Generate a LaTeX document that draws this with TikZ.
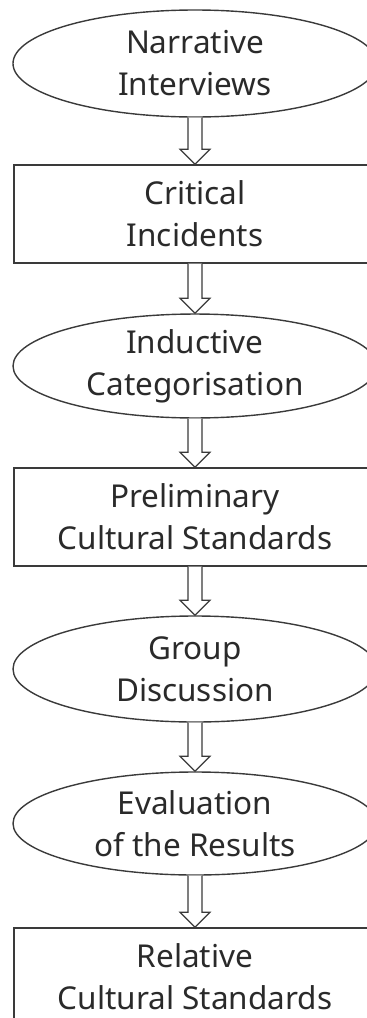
\documentclass[tikz,border=0pt]{standalone}
\usepackage{fontspec}
\setmainfont{Noto Sans}
\usetikzlibrary{shapes.geometric,calc}
\definecolor{ln}{HTML}{3A3A3A}
\definecolor{tx}{HTML}{2A2A2A}
\tikzset{
  base/.style={draw=ln, line width=1.4pt, inner sep=0pt, align=center, text=tx,
    font=\fontsize{31.5}{42}\selectfont},
  ell/.style={base, ellipse, minimum width=364pt},
  rectbox/.style={base, rectangle, minimum width=362pt},
  flowarrow/.style={draw=ln, line width=1.2pt, fill=white, line join=miter}
}
\newcommand{\fatarrow}[2]{%
  \draw[flowarrow] let \p1=(#1.south), \p2=(#2.north) in
    (\x1-7pt,\y1) -- (\x1-7pt,\y2+15pt) -- (\x1-15pt,\y2+15pt) -- (\x1,\y2)
    -- (\x1+15pt,\y2+15pt) -- (\x1+7pt,\y2+15pt) -- (\x1+7pt,\y1);}
\begin{document}
\begin{tikzpicture}[x=1pt,y=-1pt]
\useasboundingbox (0,0) rectangle (367,1018);
\clip (0,0) rectangle (367,1018);
\node[ell, minimum height=107pt] (e1) at (195,63.5) {Narrative\\Interviews};
\node[rectbox, minimum height=98pt] (r1) at (195,214) {Critical\\Incidents};
\node[ell, minimum height=102pt] (e2) at (195,366) {Inductive\\Categorisation};
\node[rectbox, minimum height=98pt] (r2) at (195,517) {Preliminary\\Cultural Standards};
\node[ell, minimum height=106pt] (e3) at (195,669) {Group\\Discussion};
\node[ell, minimum height=103pt] (e4) at (195,823.5) {Evaluation\\of the Results};
\node[rectbox, minimum height=98pt] (r3) at (195,977) {Relative\\Cultural Standards};
\fatarrow{e1}{r1}
\fatarrow{r1}{e2}
\fatarrow{e2}{r2}
\fatarrow{r2}{e3}
\fatarrow{e3}{e4}
\fatarrow{e4}{r3}
\end{tikzpicture}
\end{document}
